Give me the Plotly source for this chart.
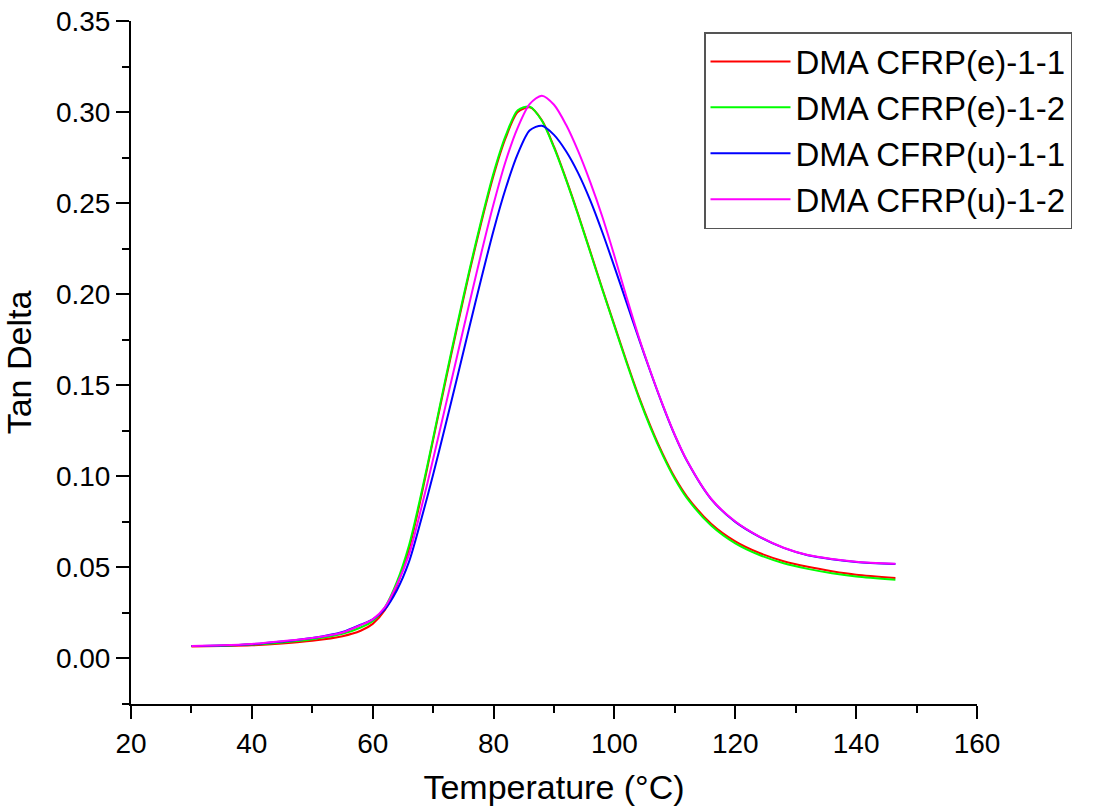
import plotly.graph_objects as go

temperature = [30, 35, 40, 45, 50, 55, 58, 60, 62, 64, 66, 68, 70, 72, 74, 76, 78, 80, 82, 84,
               86, 88, 90, 92, 94, 96, 98, 100, 102, 104, 106, 108, 110, 112, 116,
               120, 124, 128, 132, 136, 140, 146.5]

tan_e11 = [0.0066, 0.0068, 0.0072, 0.0082, 0.0097, 0.0122,
           0.0152, 0.0190, 0.0265, 0.0400, 0.0600, 0.0885, 0.1200, 0.1515, 0.1822, 0.2120,
           0.2398, 0.2652, 0.2858, 0.3000, 0.3026, 0.2955, 0.2810, 0.2632, 0.2439, 0.2235,
           0.2030, 0.1830, 0.1632, 0.1442, 0.1273, 0.1123, 0.0993, 0.0889, 0.0740, 0.0643,
           0.0579, 0.0534, 0.0503, 0.0479, 0.0460, 0.0442]

tan_e12 = [0.0068, 0.0070, 0.0076, 0.0088, 0.0105, 0.0135,
           0.0170, 0.0205, 0.0280, 0.0420, 0.0620, 0.0900, 0.1210, 0.1528, 0.1835, 0.2132,
           0.2410, 0.2665, 0.2870, 0.3010, 0.3030, 0.2952, 0.2805, 0.2628, 0.2434, 0.2230,
           0.2025, 0.1825, 0.1625, 0.1435, 0.1265, 0.1115, 0.0985, 0.0880, 0.0730, 0.0632,
           0.0568, 0.0523, 0.0492, 0.0468, 0.0450, 0.0432]

tan_u11 = [0.0068, 0.0071, 0.0078, 0.0093, 0.0112, 0.0145,
           0.0185, 0.0215, 0.0270, 0.0375, 0.0530, 0.0760, 0.1010, 0.1275, 0.1545, 0.1820,
           0.2090, 0.2350, 0.2580, 0.2770, 0.2900, 0.2925, 0.2875, 0.2785, 0.2665, 0.2515,
           0.2340, 0.2150, 0.1955, 0.1760, 0.1570, 0.1390, 0.1225, 0.1085, 0.0875, 0.0750,
           0.0668, 0.0607, 0.0567, 0.0545, 0.0530, 0.0518]

tan_u12 = [0.0068, 0.0072, 0.0080, 0.0095, 0.0113, 0.0143,
           0.0183, 0.0215, 0.0280, 0.0405, 0.0570, 0.0820, 0.1095, 0.1380, 0.1665, 0.1950,
           0.2230, 0.2495, 0.2730, 0.2915, 0.3045, 0.3090, 0.3040, 0.2930, 0.2785, 0.2615,
           0.2425, 0.2210, 0.1985, 0.1768, 0.1573, 0.1392, 0.1227, 0.1087, 0.0877, 0.0752,
           0.0669, 0.0608, 0.0568, 0.0546, 0.0531, 0.0520]

series_names = ["DMA CFRP(e)-1-1", "DMA CFRP(e)-1-2", "DMA CFRP(u)-1-1", "DMA CFRP(u)-1-2"]
series_values = [tan_e11, tan_e12, tan_u11, tan_u12]
series_colors = ["#FF0000", "#00FF00", "#0000FF", "#FF00FF"]

FONT = "Liberation Sans, Arial, sans-serif"

fig = go.Figure()
for name, vals, col in zip(series_names, series_values, series_colors):
    fig.add_trace(go.Scatter(
        x=temperature, y=vals, name=name, mode="lines",
        line=dict(color=col, width=2, shape="spline", smoothing=0.8),
    ))

axis_common = dict(
    showline=True, linecolor="black", linewidth=2, mirror=False,
    ticks="outside", ticklen=13, tickwidth=2, tickcolor="black",
    showgrid=False, zeroline=False, automargin=False,
    tickfont=dict(family=FONT, size=28, color="black"),
)

fig.update_xaxes(
    range=[20, 160], dtick=20, tick0=20,
    minor=dict(ticks="outside", ticklen=7, tickwidth=2, tickcolor="black", dtick=10, showgrid=False),
    title=dict(text="Temperature (°C)", font=dict(family=FONT, size=34, color="black"), standoff=18),
    **axis_common,
)
fig.update_yaxes(
    range=[-0.025, 0.35], dtick=0.05, tick0=0, tickformat=".2f",
    minor=dict(ticks="outside", ticklen=7, tickwidth=2, tickcolor="black", dtick=0.025, showgrid=False),
    title=dict(text="Tan Delta", font=dict(family=FONT, size=34, color="black"), standoff=15),
    **axis_common,
)

fig.update_layout(
    width=1097, height=811,
    margin=dict(l=131, r=120, t=21, b=107),
    paper_bgcolor="white", plot_bgcolor="white",
    font=dict(family=FONT, color="black"),
    legend=dict(
        x=(704 - 131) / 846.0, y=(704 - 32) / 683.0, xanchor="left", yanchor="top",
        bgcolor="white", bordercolor="#555555", borderwidth=1.5,
        font=dict(family=FONT, size=33, color="black"),
        itemwidth=80, tracegroupgap=0,
    ),
)

fig.write_html("out.html", config={"displayModeBar": False},
               post_script="document.body.style.margin='0px';")
